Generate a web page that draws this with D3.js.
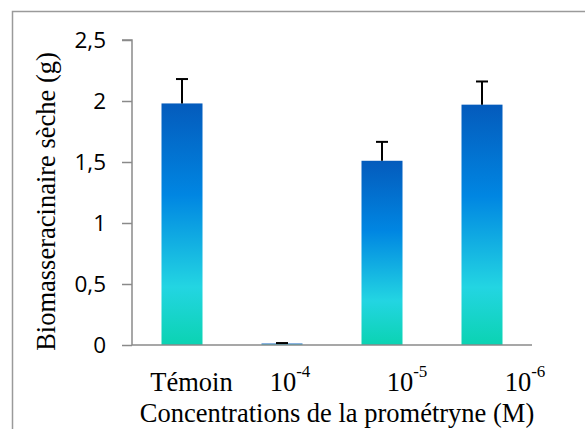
<!DOCTYPE html>
<html>
<head>
<meta charset="utf-8">
<script src="https://cdn.jsdelivr.net/npm/d3@7"></script>
<style>
  html, body { margin: 0; padding: 0; background: #fff; }
  svg { display: block; }
</style>
</head>
<body>
<svg id="chart" width="585" height="429"></svg>
<script>
// ---- data ----
const categories = ["Témoin", "10-4", "10-5", "10-6"];
const labelMain = ["Témoin", "10", "10", "10"];
const labelSup = ["", "-4", "-5", "-6"];
const values = [1.98, 0.012, 1.51, 1.97];
const errors = [0.20, 0.004, 0.155, 0.19];
const yTicks = [0, 0.5, 1, 1.5, 2, 2.5];
const yTitle = "Biomasseracinaire sèche (g)";
const xTitle = "Concentrations de la prométryne (M)";

// ---- layout ----
const svg = d3.select("#chart");
const x0 = 132, x1 = 532, yTop = 40, yBot = 345;
const labelShift = [9.5, 8, 25, 43];
const serif = "'Liberation Serif', 'Times New Roman', serif";
const sans = "'Open Sans', 'Noto Sans', sans-serif";

const x = d3.scaleBand().domain(categories).range([x0, x1])
  .paddingInner(0.59).paddingOuter(0.295);
const y = d3.scaleLinear().domain([0, 2.5]).range([yBot, yTop]);

// frame
svg.append("rect").attr("x", 12.5).attr("y", 11.5).attr("width", 620).attr("height", 440)
  .attr("fill", "none").attr("stroke", "#9a9a9a").attr("stroke-width", 1.5);

// gradient
const defs = svg.append("defs");
const grad = defs.append("linearGradient").attr("id", "barGrad")
  .attr("x1", 0).attr("y1", 0).attr("x2", 0).attr("y2", 1);
[["0%", "#045BBC"], ["38%", "#0086E2"], ["76%", "#23D5E2"], ["100%", "#0BD3B2"]]
  .forEach(([o, c]) => grad.append("stop").attr("offset", o).attr("stop-color", c));

// y axis
const fmt = v => String(v).replace(".", ",");
const yAxis = d3.axisLeft(y).tickValues(yTicks).tickFormat(fmt).tickSize(10).tickPadding(16);
const gy = svg.append("g").attr("transform", `translate(${x0},0)`).call(yAxis);
gy.select(".domain").attr("stroke", "#8a8a8a").attr("stroke-width", 1.5).attr("d", `M-10,${y(2.5)}H0V${yBot}`);
gy.selectAll(".tick line").attr("stroke", "#8a8a8a").attr("stroke-width", 1.5);
gy.selectAll(".tick text").attr("font-family", sans).attr("font-size", 22.5).attr("fill", "#000");

// bars
const idx = d3.range(categories.length);
svg.append("g").selectAll("rect").data(idx).join("rect")
  .attr("x", i => x(categories[i]))
  .attr("y", i => y(values[i]))
  .attr("width", x.bandwidth())
  .attr("height", i => yBot - y(values[i]))
  .attr("fill", "url(#barGrad)");

// x axis line
svg.append("line").attr("x1", x0).attr("x2", x1).attr("y1", yBot).attr("y2", yBot)
  .attr("stroke", "#8a8a8a").attr("stroke-width", 1.5);

// error bars
const eg = svg.append("g").attr("stroke", "#000").attr("stroke-width", 2);
idx.forEach(i => {
  const cx = x(categories[i]) + x.bandwidth() / 2;
  const yv = y(values[i]), ye = y(values[i] + errors[i]);
  eg.append("line").attr("x1", cx).attr("x2", cx).attr("y1", yv).attr("y2", ye);
  eg.append("line").attr("x1", cx - 6).attr("x2", cx + 6).attr("y1", ye).attr("y2", ye);
});

// x labels
const xl = svg.append("g").attr("font-family", serif).attr("font-size", 26.5).attr("fill", "#000");
idx.forEach(i => {
  const cx = x(categories[i]) + x.bandwidth() / 2 + labelShift[i];
  const t = xl.append("text").attr("x", cx).attr("y", 391).attr("text-anchor", "middle");
  t.append("tspan").text(labelMain[i]);
  if (labelSup[i]) t.append("tspan").attr("font-size", 17).attr("dy", -14).text(labelSup[i]);
});

// titles
svg.append("text").attr("x", 337).attr("y", 422).attr("text-anchor", "middle")
  .attr("font-family", serif).attr("font-size", 26.5).attr("fill", "#000").text(xTitle);
svg.append("text").attr("transform", "translate(55,201.5) rotate(-90)").attr("text-anchor", "middle")
  .attr("font-family", serif).attr("font-size", 26.5).attr("fill", "#000").text(yTitle);
</script>
</body>
</html>
